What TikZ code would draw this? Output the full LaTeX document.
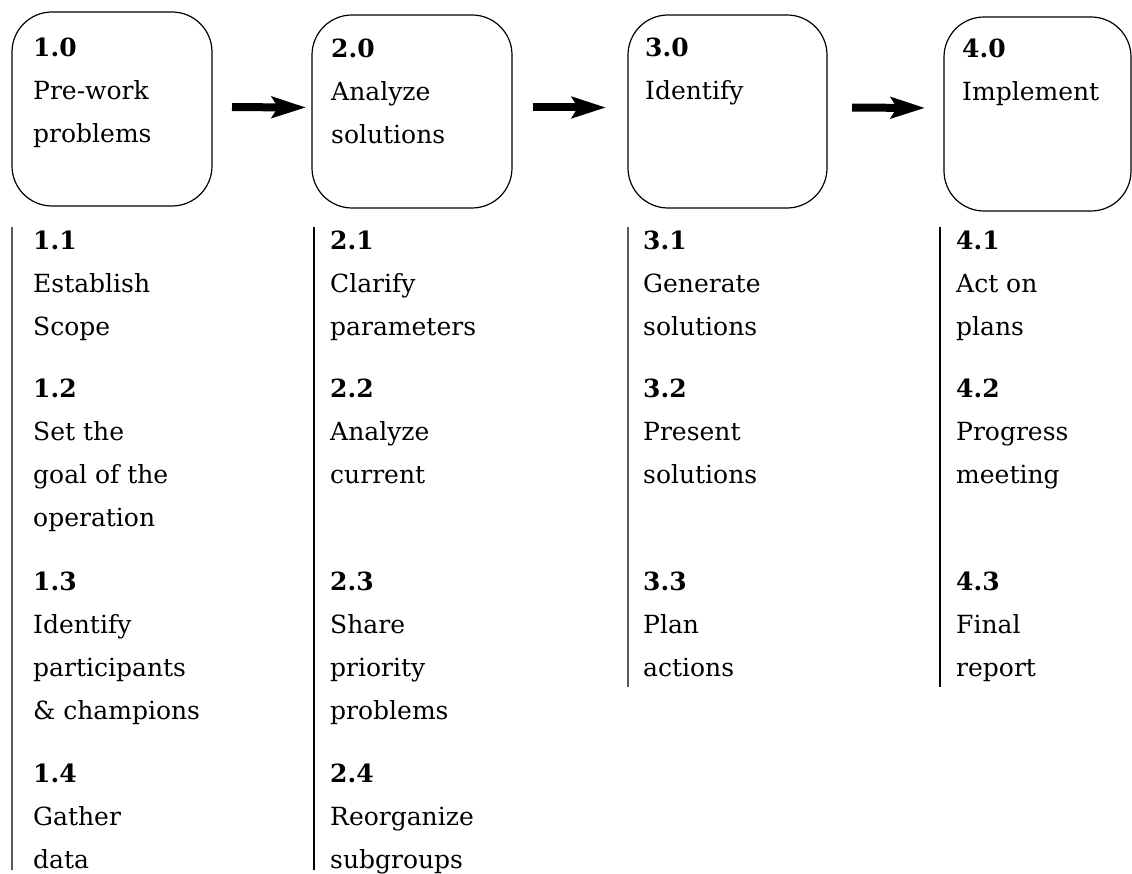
\documentclass[tikz,border=0pt]{standalone}
\usepackage{fontspec}
\setmainfont{DejaVu Serif}
\usetikzlibrary{arrows.meta}

\tikzset{
  stage/.style={draw, line width=1.2pt, rounded corners=40pt,
    minimum width=200pt, minimum height=194pt,
    anchor=north west, inner sep=0pt, outer sep=0pt},
  numtext/.style={anchor=base west, inner sep=0pt,
    font=\fontsize{25}{30}\selectfont\bfseries},
  itemtext/.style={anchor=base west, inner sep=0pt,
    font=\fontsize{25}{30}\selectfont},
  flow/.style={line width=8pt, -{Stealth[length=34pt,width=21pt,inset=6pt]}},
  rule/.style={line width=2pt},
  darkrule/.style={line width=2.6pt},
  greyrule/.style={line width=2pt, black!65},
}

% A numbered block: bold number, then one text line per list entry, 43pt apart
\newcommand\itemblock[5]{%
  \node[numtext] (#1) at (#2,#3) {#4};
  \foreach \itemline [count=\k] in {#5} {
    \node[itemtext] (#1-\k) at (#2,#3+43*\k) {\itemline};
  }%
}

\begin{document}
\begin{tikzpicture}[x=1pt, y=-1pt]
  \useasboundingbox (0,0) rectangle (1132,874);

  % stage boxes
  \node[stage] (b1) at (12,12) {};
  \node[stage, minimum height=193pt] (b2) at (312,15) {};
  \node[stage, minimum width=199pt, minimum height=193pt] (b3) at (628,15) {};
  \node[stage, minimum width=187pt] (b4) at (944,17) {};

  % stage titles
  \itemblock{s1}{33}{57}{1.0}{Pre-work,problems}
  \itemblock{s2}{331}{58}{2.0}{Analyze,solutions}
  \itemblock{s3}{645}{57}{3.0}{Identify}
  \itemblock{s4}{962}{58}{4.0}{Implement}

  % arrows between stages
  \draw[flow, shorten <=20pt, shorten >=6pt] ([yshift=2pt]b1.east) -- ([yshift=4pt]b2.west);
  \draw[flow, shorten <=21pt, shorten >=22pt] ([yshift=4pt]b2.east) -- ([yshift=4pt]b3.west);
  \draw[flow, shorten <=25pt, shorten >=19pt] ([yshift=4pt]b3.east) -- ([yshift=6pt]b4.west);

  % rules under each stage
  \draw[greyrule] ([yshift=-21pt]b1.south west) -- ++(0,643);
  \draw[darkrule] ([xshift=2pt,yshift=-19pt]b2.south west) -- ++(0,643);
  \draw[greyrule] ([yshift=-19pt]b3.south west) -- ++(0,460);
  \draw[rule] ([xshift=-4pt,yshift=-16pt]b4.south west) -- ++(0,460);

  % column 1
  \itemblock{t11}{33}{250}{1.1}{Establish,Scope}
  \itemblock{t12}{33}{397}{1.2}{Set the,goal of the,operation}
  \itemblock{t13}{33}{590}{1.3}{Identify,participants,\& champions}
  \itemblock{t14}{33}{782}{1.4}{Gather,data}

  % column 2
  \itemblock{t21}{330}{250}{2.1}{Clarify,parameters}
  \itemblock{t22}{330}{397}{2.2}{Analyze,current}
  \itemblock{t23}{330}{590}{2.3}{Share,priority,problems}
  \itemblock{t24}{330}{782}{2.4}{Reorganize,subgroups}

  % column 3
  \itemblock{t31}{643}{250}{3.1}{Generate,solutions}
  \itemblock{t32}{643}{397}{3.2}{Present,solutions}
  \itemblock{t33}{643}{590}{3.3}{Plan,actions}

  % column 4
  \itemblock{t41}{956}{250}{4.1}{Act on,plans}
  \itemblock{t42}{956}{397}{4.2}{Progress,meeting}
  \itemblock{t43}{956}{590}{4.3}{Final,report}
\end{tikzpicture}
\end{document}
